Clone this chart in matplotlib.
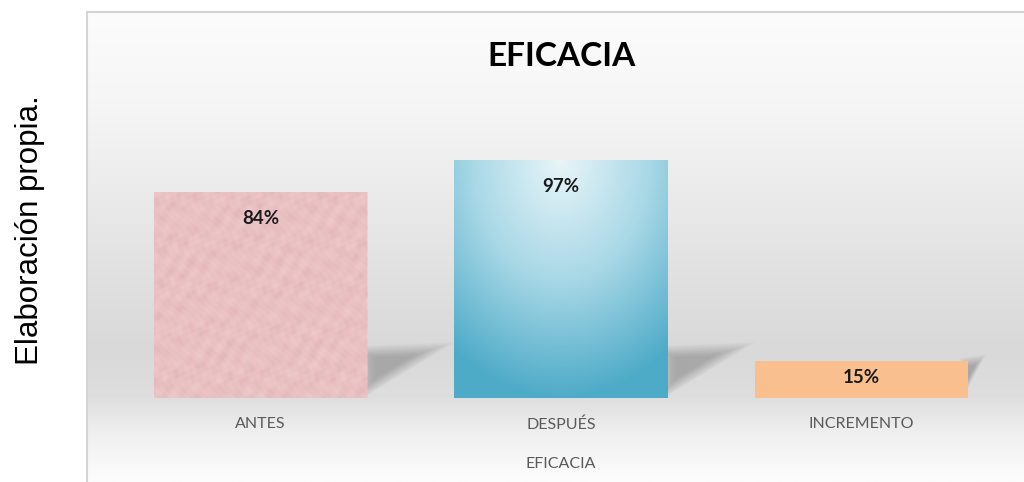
import numpy as np
import matplotlib
matplotlib.use("Agg")
import matplotlib.pyplot as plt
from matplotlib.patches import Polygon
from matplotlib.colors import LinearSegmentedColormap

categories = ["ANTES", "DESPUÉS", "INCREMENTO"]
values = [0.84, 0.97, 0.15]
value_labels = ["84%", "97%", "15%"]
title = "EFICACIA"
axis_title = "EFICACIA"
side_note = "Elaboración propia."

W, H = 1024, 482
fig = plt.figure(figsize=(W / 100, H / 100), dpi=100)
fig.patch.set_facecolor("white")

def fx(px):
    return px / W

def fy(py):
    return 1 - py / H

# chart area background (gradient)
bg = fig.add_axes([fx(87), 0, 1 - fx(87), fy(12)])
bg.set_xlim(0, 1)
bg.set_ylim(0, 1)
prof_y = np.array([12, 100, 200, 300, 350, 398, 430, 470, 482])
prof_v = np.array([252, 246, 234, 222, 217, 222, 238, 250, 252]) / 255
ys = np.linspace(12, 482, 300)
vals = np.interp(ys, prof_y, prof_v)
img = np.repeat(vals[:, None], 2, axis=1)
img = np.dstack([img, img, img])
bg.imshow(img, extent=[0, 1, 0, 1], aspect="auto", origin="upper", zorder=0)
bg.axis("off")
bg.plot([0, 0], [0, 1], color="#d4d4d4", lw=1.5, transform=bg.transAxes, clip_on=False)
bg.plot([0, 1], [1, 1], color="#d4d4d4", lw=1.5, transform=bg.transAxes, clip_on=False)

# side note
fig.text(fx(30), fy(230), side_note, rotation=90, ha="center", va="center",
         fontsize=22.5, family="Liberation Sans", color="black")

# main axes
x0, x1 = 110, 1012
ytop, ybase = 104, 398
ax = fig.add_axes([fx(x0), fy(ybase), fx(x1 - x0), (ybase - ytop) / H])
ax.patch.set_alpha(0)
ax.set_xlim(-0.5, 2.5)
ax.set_ylim(0, 1.2)
for s in ax.spines.values():
    s.set_visible(False)
ax.set_yticks([])
xs = np.arange(len(categories))
ax.set_xticks(xs)
ax.set_xticklabels(categories, family="Lato", fontsize=11.5, color="#595959")
ax.tick_params(axis="x", length=0, pad=14)
ax.set_xlabel(axis_title, family="Lato", fontsize=11.5, color="#595959", labelpad=18)

bw = 0.71
colors = ["#e9bfc1", "#8ccbdc", "#f9bf8e"]
bars = ax.bar(xs, values, width=bw, color=colors, zorder=3, linewidth=0)

# soft perspective shadows
for xi, v in zip(xs, values):
    xr = xi + bw / 2
    ext = 0.24 * min(1.0, v / 0.8)
    top = min(v, 0.195)
    tri = np.array([(xr - 0.02, top), (xr + ext, top + 0.012), (xr - 0.02, 0.012)])
    c = tri.mean(axis=0)
    n = 18
    for k in range(n):
        s = 1.3 - 0.05 * k
        pts = c + (tri - c) * s
        ax.add_patch(Polygon(pts, closed=True, facecolor="#6a6a6a", alpha=0.028,
                             edgecolor="none", zorder=2))

# gradient on DESPUÉS bar
b = bars[1]
gx = np.linspace(-1, 1, 200)
gy = np.linspace(0, 1, 300)
GX, GY = np.meshgrid(gx, gy)
t = np.clip(np.sqrt((GX * 0.6) ** 2 + (1 - GY) ** 2 * 1.0), 0, 1)
cmap = LinearSegmentedColormap.from_list("b", ["#e8f5f9", "#a9d8e6", "#4eabc8"])
im = ax.imshow(t, extent=[xs[1] - bw / 2, xs[1] + bw / 2, 0, values[1]], origin="lower",
               cmap=cmap, aspect="auto", zorder=3.5, vmin=0, vmax=1)
im.set_clip_path(b)

# mottled shading on the ANTES bar
u = np.linspace(0, 1, 260)
U, V = np.meshgrid(u, u)
shade = (np.sin(U * 53 + V * 17) * np.sin(V * 61 - U * 23)
         + 0.7 * np.sin(U * 131 + np.sin(V * 29) * 3) * np.cos(V * 113 + U * 41)
         + 0.5 * np.sin(U * 19 - V * 37 + np.cos(U * 71)))
cmap0 = LinearSegmentedColormap.from_list("p", ["#dfaeb2", "#ebc3c5", "#f3d3d4"])
b0 = bars[0]
im0 = ax.imshow(shade, extent=[xs[0] - bw / 2, xs[0] + bw / 2, 0, values[0]], origin="lower",
                cmap=cmap0, aspect="auto", zorder=3.5, alpha=0.55)
im0.set_clip_path(b0)

ax.set_xlim(-0.5, 2.5)
ax.set_ylim(0, 1.2)

# value labels (inside end; centred when the bar is short)
for xi, v, lab in zip(xs, values, value_labels):
    yl = max(v - 0.106, v / 2 + 0.01)
    ax.text(xi, yl, lab, ha="center", va="center", fontsize=13.5, fontweight="bold",
            family="Lato", color="#1a1a1a", zorder=5)

fig.text(fx(561), fy(57), title, ha="center", va="center", fontsize=24,
         fontweight="bold", family="Lato", color="black")

fig.savefig("out.png", dpi=100)
